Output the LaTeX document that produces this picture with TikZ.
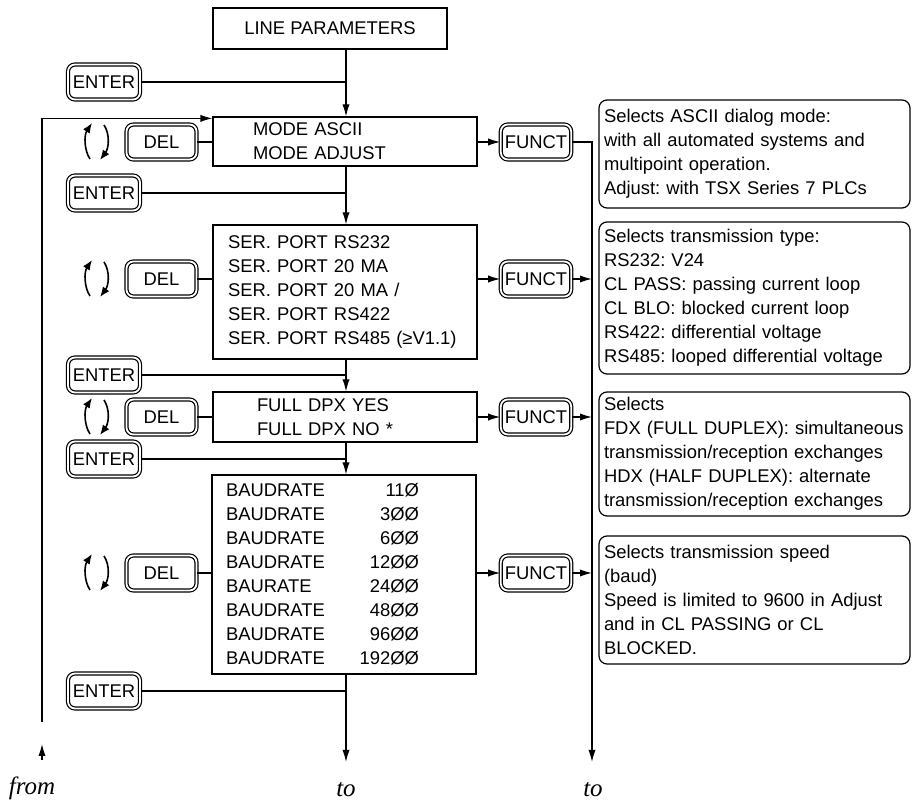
\documentclass[tikz,border=0pt]{standalone}
\usepackage{fontspec}
\setmainfont{Liberation Sans}
\newfontfamily\notefont{Liberation Serif}
\usetikzlibrary{arrows.meta}

\newcommand\baudline[2]{\makebox[96.5pt][l]{#1\hfill#2}}

\begin{document}
\begin{tikzpicture}[x=0.5pt,y=-0.5pt,line width=0.6pt,
    every node/.style={font=\fontsize{9.2}{12}\selectfont\frenchspacing},
    >={Latex[length=6pt,width=3.6pt]},
    menu/.style={draw,align=left,inner ysep=0pt},
    key/.style={draw,double,double distance=0.9pt,rounded corners=3.5pt,
      minimum height=17.5pt,inner xsep=2pt,inner ysep=0pt},
    note/.style={draw,rounded corners=4pt,text width=150.5pt,inner xsep=2.5pt,
      inner ysep=0pt,align=left},
    pics/delcycle/.style={code={
      \draw[line width=0.8pt,-{Latex[length=5pt,width=4pt]}] (-7,17) .. controls (-13,8) and (-13,-7) .. (-5,-19);
      \draw[line width=0.8pt,-{Latex[length=5pt,width=4pt]}] (7,-17) .. controls (13,-8) and (12,6) .. (3,18);
    }}]

  \useasboundingbox (0,0) rectangle (912,802);

  % Guide lines
  \coordinate (spine) at (346,0);
  \coordinate (rline) at (592,0);
  \coordinate (loopstart) at (42,722);
  \coordinate (toA) at (346,762);
  \coordinate (toB) at (592,762);
  \coordinate (frombase) at (42,760);
  \coordinate (fromtip) at (42,744);

  % Menu boxes
  \node[menu,minimum width=117pt,minimum height=20.5pt,align=center] (lp) at (330,28.5) {LINE PARAMETERS};
  \node[menu,inner xsep=20pt,text width=92pt,minimum height=24.5pt] (mode) at (345,141.5)
    {MODE ASCII\\MODE ADJUST};
  \node[menu,inner xsep=7.5pt,text width=117pt,minimum height=67pt] (port) at (345,292)
    {SER. PORT RS232\\SER. PORT 20 MA\\SER. PORT 20 MA /\\SER. PORT RS422\\SER. PORT RS485 (≥V1.1)};
  \node[menu,inner xsep=22pt,text width=88pt,minimum height=25pt] (dpx) at (345,417)
    {FULL DPX YES\\FULL DPX NO *};
  \node[menu,inner xsep=7pt,text width=118pt,minimum height=99.5pt] (baud) at (344,574.5)
    {\baudline{BAUDRATE}{11Ø}\\\baudline{BAUDRATE}{3ØØ}\\\baudline{BAUDRATE}{6ØØ}\\
     \baudline{BAUDRATE}{12ØØ}\\\baudline{BAURATE}{24ØØ}\\\baudline{BAUDRATE}{48ØØ}\\
     \baudline{BAUDRATE}{96ØØ}\\\baudline{BAUDRATE}{192ØØ}};

  % Notes
  \node[note,minimum height=54pt] (nmode) at (754.5,154)
    {Selects ASCII dialog mode:\\with all automated systems and\\multipoint operation.\\Adjust: with TSX Series 7 PLCs};
  \node[note,minimum height=76pt] (nport) at (754.5,298)
    {Selects transmission type:\\RS232: V24\\CL PASS: passing current loop\\CL BLO: blocked current loop\\RS422: differential voltage\\RS485: looped differential voltage};
  \node[note,minimum height=62pt] (ndpx) at (754.5,454)
    {Selects\\FDX (FULL DUPLEX): simultaneous\\transmission/reception exchanges\\HDX (HALF DUPLEX): alternate\\transmission/reception exchanges};
  \node[note,minimum height=64pt] (nbaud) at (754.5,600)
    {Selects transmission speed\\(baud)\\Speed is limited to 9600 in Adjust\\and in CL PASSING or CL\\BLOCKED.};

  % Keys
  \foreach \n/\y in {1/82,2/193,3/375,4/459,5/691} {
    \node[key,minimum width=36pt] (enter\n) at (104,\y) {ENTER};
    \draw (enter\n.east) -- (enter\n.east -| spine);
  }
  \foreach \n/\y/\m in {1/142/mode,2/279/port,3/417/dpx,4/573/baud} {
    \node[key,minimum width=35pt] (del\n) at (161.5,\y) {DEL};
    \node[key,minimum width=34pt] (funct\n) at (536,\y) {FUNCT};
    \pic at (97,\y) {delcycle};
    \draw (del\n.east) -- (del\n.east -| \m.west);
    \draw[->] (\m.east |- funct\n.west) -- (funct\n.west);
  }

  % Main flow
  \foreach \a/\b in {lp/mode,mode/port,port/dpx,dpx/baud}
    \draw[->] (\a.south -| spine) -- (\b.north -| spine);
  \draw[->] (baud.south -| spine) -- (toA);

  % Function line
  \draw[->] (funct1.east) -- (funct1.east -| rline) -- (toB);
  \foreach \n in {2,3,4}
    \draw[->] (funct\n.east) -- (funct\n.east -| rline);

  % Return loop
  \draw[->] (loopstart) |- ([yshift=-1pt]mode.north west);
  \draw[->] (frombase) -- (fromtip);

  % Labels
  \node[font=\notefont\itshape\fontsize{12.5}{14}\selectfont] (from) at (32,788) {from};
  \node[font=\notefont\itshape\fontsize{12.5}{14}\selectfont] (toa) at (346,790) {to};
  \node[font=\notefont\itshape\fontsize{12.5}{14}\selectfont] (tob) at (593,790) {to};

\end{tikzpicture}
\end{document}
